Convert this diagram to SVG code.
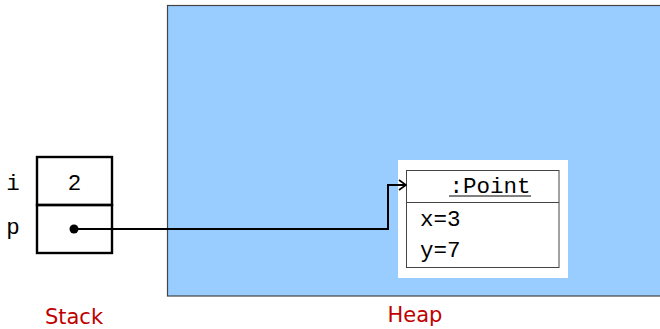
<svg xmlns="http://www.w3.org/2000/svg" width="660" height="329" viewBox="0 0 660 329">
<defs>
<style>
.mono{font-family:"Liberation Mono","DejaVu Sans Mono",monospace;font-size:22.5px;fill:#000}
.lbl{font-family:"DejaVu Sans","Noto Sans",sans-serif;font-size:21px;fill:#c00000}
.box{fill:none;stroke:#000;stroke-width:2.4}
</style>
<marker id="arr" markerWidth="10" markerHeight="12" refX="9" refY="6" orient="auto" markerUnits="userSpaceOnUse">
<path d="M2,1 L9,6 L2,11" fill="none" stroke="#000" stroke-width="1.6"/>
</marker>
</defs>
<rect width="660" height="329" fill="#fff"/>
<g id="heap">
<rect x="167.5" y="5.5" width="500" height="290.5" fill="#99ccff" stroke="#444" stroke-width="1.2"/>
<text class="lbl" x="415" y="322" text-anchor="middle">Heap</text>
</g>
<g id="stack">
<rect class="box" x="37" y="157" width="75" height="48"/>
<rect class="box" x="37" y="205" width="75" height="48"/>
<text class="mono" x="74.5" y="190" text-anchor="middle">2</text>
<text class="mono" x="13" y="190" text-anchor="middle">i</text>
<text class="mono" x="13" y="234" text-anchor="middle">p</text>
<circle cx="74" cy="229" r="4.5" fill="#000"/>
<text class="lbl" x="74" y="324" text-anchor="middle">Stack</text>
</g>
<g id="point">
<rect x="398" y="160" width="170" height="118" fill="#fff"/>
<rect x="406.5" y="170.5" width="152.5" height="97" fill="#fff" stroke="#444" stroke-width="1"/>
<line x1="406.5" y1="202.5" x2="559" y2="202.5" stroke="#444" stroke-width="1"/>
<text class="mono" x="490" y="193" text-anchor="middle">:Point</text>
<line x1="449" y1="196" x2="531" y2="196" stroke="#000" stroke-width="1"/>
<text class="mono" x="420" y="226">x=3</text>
<text class="mono" x="420" y="257">y=7</text>
</g>
<g id="connectors">
<path d="M74,229 H388 V185 H406" fill="none" stroke="#000" stroke-width="2" marker-end="url(#arr)"/>
</g>
</svg>
